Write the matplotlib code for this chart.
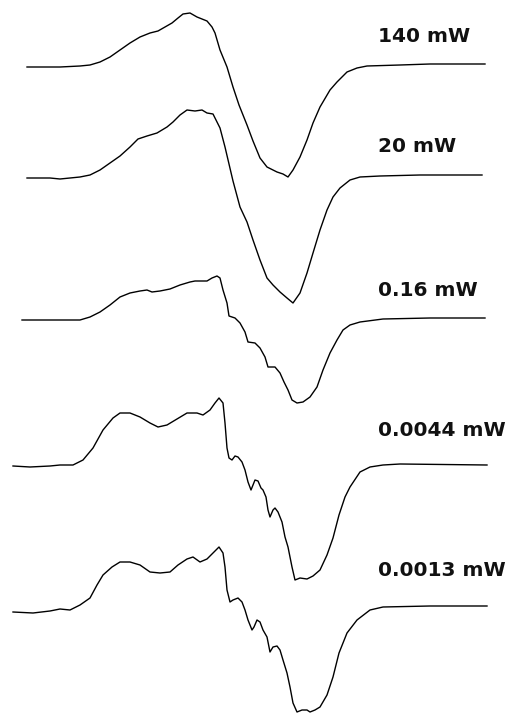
import matplotlib
matplotlib.use("Agg")
import matplotlib.pyplot as plt

# Spektren (x = Feldposition, s = Signal ueber der Grundlinie)
labels = ['140 mW', '20 mW', '0.16 mW', '0.0044 mW', '0.0013 mW']
offsets = [67, 178, 320, 467, 612]
label_y = [36, 146, 290, 431, 570]

x1 = [27, 60, 80, 90, 100, 110, 120, 130, 140, 150, 158, 165, 172, 178, 183, 190, 197, 207,
      212, 215, 220, 227, 233, 239, 247, 253, 260, 267, 277, 283, 288, 293, 300, 307, 313,
      320, 330, 337, 347, 357, 367, 400, 430, 485]
s1 = [0, 0, 1, 2, 5, 10, 17, 24, 30, 34, 36, 40, 44, 49, 53, 54, 50, 46,
      40, 34, 17, 0, -20, -38, -58, -74, -91, -100, -105, -107, -110, -103, -90, -73, -56,
      -40, -23, -15, -5, -1, 1, 2, 3, 3]

x2 = [27, 50, 60, 80, 90, 100, 110, 120, 130, 138, 147, 157, 167, 173, 180, 187, 195, 202,
      207, 213, 220, 225, 233, 240, 247, 253, 260, 267, 273, 280, 287, 293, 300, 307, 313,
      320, 327, 333, 340, 350, 360, 380, 420, 482]
s2 = [0, 0, -1, 1, 3, 8, 15, 22, 31, 39, 42, 45, 51, 56, 63, 68, 67, 68,
      65, 64, 50, 31, -3, -29, -44, -62, -82, -100, -107, -114, -120, -125, -115, -95, -75,
      -52, -32, -19, -10, -2, 1, 2, 3, 3]

x3 = [22, 50, 80, 90, 100, 110, 120, 130, 140, 147, 152, 160, 170, 180, 190, 195, 207, 212,
      217, 220, 223, 227, 229, 235, 240, 245, 248, 255, 260, 265, 268, 275, 280, 284, 288,
      292, 297, 303, 310, 317, 323, 330, 337, 343, 350, 360, 383, 430, 485]
s3 = [0, 0, 0, 3, 8, 15, 23, 27, 29, 30, 28, 29, 31, 35, 38, 39, 39, 42,
      44, 42, 30, 17, 4, 2, -3, -12, -22, -23, -28, -37, -47, -47, -53, -62, -70,
      -80, -83, -82, -77, -67, -50, -33, -20, -10, -5, -2, 1, 2, 2]

x4 = [13, 30, 50, 60, 73, 83, 93, 103, 113, 120, 130, 140, 150, 158, 167, 177, 187, 197,
      203, 210, 215, 219, 223, 225, 227, 229, 232, 235, 238, 242, 245, 248, 251, 253, 255,
      258, 261, 263, 266, 268, 270, 273, 275, 278, 282, 285, 288, 292, 295, 300, 307, 313,
      320, 327, 333, 339, 345, 350, 360, 370, 383, 400, 487]
s4 = [1, 0, 1, 2, 2, 7, 19, 37, 49, 54, 54, 50, 44, 40, 42, 48, 54, 54,
      52, 57, 64, 69, 64, 44, 19, 9, 7, 11, 10, 5, -3, -15, -23, -18, -13,
      -14, -21, -23, -30, -43, -50, -43, -41, -45, -55, -70, -80, -100, -113, -111, -112, -109,
      -103, -88, -71, -48, -30, -20, -5, 0, 2, 3, 2]

x5 = [13, 33, 50, 60, 70, 80, 90, 97, 103, 112, 120, 130, 140, 150, 160, 170, 178, 187,
      193, 200, 207, 213, 219, 223, 225, 227, 230, 233, 238, 242, 245, 248, 252, 254, 257,
      260, 263, 267, 270, 273, 277, 280, 283, 287, 290, 293, 297, 302, 307, 310, 315, 320,
      327, 333, 339, 347, 357, 370, 383, 430, 487]
s5 = [0, -1, 1, 3, 2, 7, 14, 27, 37, 45, 50, 50, 47, 40, 39, 40, 47, 53,
      55, 50, 53, 59, 65, 59, 45, 22, 10, 12, 14, 10, 2, -8, -18, -15, -8,
      -10, -18, -25, -40, -35, -34, -38, -48, -61, -75, -91, -100, -98, -98, -100, -98, -95,
      -83, -65, -41, -21, -8, 2, 5, 6, 6]

xs = [x1, x2, x3, x4, x5]
ss = [s1, s2, s3, s4, s5]

fig = plt.figure(figsize=(5.11, 7.13), dpi=100)
ax = fig.add_axes([0, 0, 1, 1])

for x, s, off, lab, ly in zip(xs, ss, offsets, labels, label_y):
    ax.plot(x, [off - v for v in s], color='black', lw=1.0, solid_joinstyle='round')
    ax.text(378, ly, lab, fontsize=14.5, fontweight='bold', ha='left', va='center',
            family='DejaVu Sans', color='#111111')

ax.set_xlim(0, 511)
ax.set_ylim(713, 0)
ax.axis('off')

fig.savefig('out.png', dpi=100, facecolor='white')
